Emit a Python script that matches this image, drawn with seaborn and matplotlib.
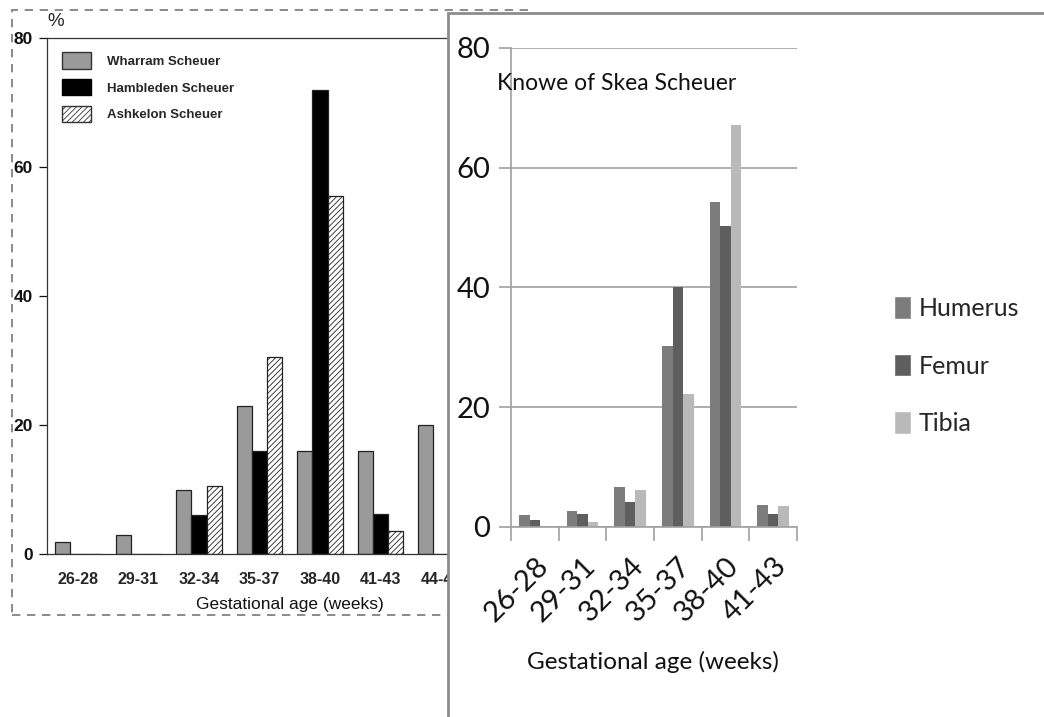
import matplotlib
matplotlib.use('Agg')
import matplotlib.pyplot as plt
import matplotlib.patches as mpatches
import pandas as pd
import seaborn as sns

# left panel data (percent)
ages_left = ['26-28', '29-31', '32-34', '35-37', '38-40', '41-43', '44-46']
wharram   = [1.8, 3.0, 10.0, 23.0, 16.0, 16.0, 20.0]
hambleden = [0.0, 0.0, 6.0, 16.0, 72.0, 6.2, 0.0]
ashkelon  = [0.0, 0.0, 10.5, 30.5, 55.5, 3.6, 0.0]
sites = ['Wharram Scheuer', 'Hambleden Scheuer', 'Ashkelon Scheuer']

# right panel data (percent)
ages_right = ['26-28', '29-31', '32-34', '35-37', '38-40', '41-43']
humerus = [1.9, 2.7, 6.6, 30.2, 54.3, 3.7]
femur   = [1.1, 2.1, 4.2, 40.0, 50.3, 2.1]
tibia   = [0.0, 0.8, 6.1, 22.1, 67.1, 3.5]
bones = ['Humerus', 'Femur', 'Tibia']

sns.set_style('white')
plt.rcParams['font.family'] = ['Liberation Sans', 'DejaVu Sans']
plt.rcParams['hatch.linewidth'] = 0.6

W, H = 1044, 717
def box(l, t, r, b):
  return [l / W, 1 - b / H, (r - l) / W, (b - t) / H]

fig = plt.figure(figsize=(W / 100, H / 100), dpi=100)
fig.patch.set_facecolor('white')

# ---- left panel ----
left_db = pd.DataFrame({'age': ages_left * 3,
                        'pct': wharram + hambleden + ashkelon,
                        'site': [s for s in sites for _ in ages_left]})

ax1 = fig.add_axes(box(47, 38, 470, 554))
ax1.set_zorder(0)
sns.barplot(data=left_db, x='age', y='pct', hue='site', hue_order=sites,
            palette=['#9a9a9a', '#000000', '#ffffff'], width=0.75,
            saturation=1, edgecolor='#222222', linewidth=0.9,
            legend=False, ax=ax1)
for bar in ax1.containers[2]:
  bar.set_hatch('//////')
  bar.set_facecolor('white')

ax1.set_ylim(0, 80)
ax1.set_xlim(-0.512, 6.48)
ax1.set_yticks([0, 20, 40, 60, 80])
ax1.tick_params(axis='y', length=6, width=0.9, pad=4, labelsize=12.5, colors='#111111', left=True)
ax1.tick_params(axis='x', length=0, pad=13, labelsize=11.5)
for lab in ax1.get_xticklabels() + ax1.get_yticklabels():
  lab.set_fontweight('semibold')
ax1.set_xlabel('')
ax1.set_ylabel('')
for s in ['left', 'top', 'bottom']:
  ax1.spines[s].set_color('#333333')
  ax1.spines[s].set_linewidth(0.9)
ax1.spines['right'].set_visible(False)

handles = [mpatches.Patch(facecolor='#9a9a9a', edgecolor='#333333', label=sites[0]),
           mpatches.Patch(facecolor='black', edgecolor='black', label=sites[1]),
           mpatches.Patch(facecolor='white', edgecolor='#333333', hatch='//////', label=sites[2])]
ax1.legend(handles=handles, loc='upper left', bbox_to_anchor=(0.008, 0.995),
           frameon=False, handlelength=2.2, handleheight=1.5, handletextpad=1.2,
           labelspacing=0.8, prop={'weight': 'bold', 'size': 9.5})

fig.text(47 / W, 1 - 21 / H, '%', fontsize=13.5, va='center', ha='left')
fig.text(290 / W, 1 - 604 / H, 'Gestational age (weeks)', fontsize=12.5,
         va='center', ha='center', color='#111111', fontweight='medium')

# dashed frame of left figure
fig.add_artist(mpatches.Rectangle((12 / W, 1 - 615 / H), 518 / W, 605 / H,
                                  transform=fig.transFigure, fill=False,
                                  edgecolor='#777777', linewidth=1.2,
                                  linestyle=(0, (5, 4)), zorder=0.5))

# white panel with grey frame on top
fig.add_artist(mpatches.Rectangle((448 / W, -0.05), 0.7, 1.05 - 13 / H,
                                  transform=fig.transFigure, facecolor='white',
                                  edgecolor='#8c8c8c', linewidth=2, zorder=1))

# ---- right panel ----
right_db = pd.DataFrame({'age': ages_right * 3,
                         'pct': humerus + femur + tibia,
                         'bone': [b for b in bones for _ in ages_right]})

rfont = ['Lato', 'DejaVu Sans']
ax2 = fig.add_axes(box(511, 48, 797, 526.7))
ax2.set_zorder(2)
sns.barplot(data=right_db, x='age', y='pct', hue='bone', hue_order=bones,
            palette=['#7c7c7c', '#5e5e5e', '#b9b9b9'], width=0.66,
            saturation=1, linewidth=0, legend=False, ax=ax2)
ax2.set_ylim(0, 80)
ax2.set_xlim(-0.5, 5.5)
ax2.set_yticks([0, 20, 40, 60, 80])
ax2.yaxis.grid(True, color='#a0a0a0', linewidth=1.2)
ax2.set_axisbelow(True)
ax2.tick_params(axis='y', length=9, width=1.2, color='#a0a0a0', pad=6, left=True)
ax2.set_xticks(range(len(ages_right)))
ax2.set_xticks([i - 0.5 for i in range(len(ages_right) + 1)], minor=True)
ax2.tick_params(axis='x', which='major', length=0, pad=19)
ax2.tick_params(axis='x', which='minor', length=10, width=1.2, color='#a0a0a0', bottom=True)
ax2.set_xticklabels(ages_right, rotation=45, ha='right', rotation_mode='anchor')
for lab in ax2.get_xticklabels() + ax2.get_yticklabels():
  lab.set_family(rfont)
  lab.set_fontsize(21)
  lab.set_color('#111111')
for s in ['top', 'right']:
  ax2.spines[s].set_visible(False)
ax2.spines['left'].set_color('#a0a0a0')
ax2.spines['bottom'].set_color('#a0a0a0')
ax2.spines['left'].set_linewidth(1.2)
ax2.spines['bottom'].set_linewidth(1.2)
ax2.set_xlabel('')
ax2.set_ylabel('')

fig.text(497 / W, 1 - 83 / H, 'Knowe of Skea Scheuer', fontsize=16.5,
         family=rfont, va='center', ha='left', color='#111111', zorder=3)
fig.text(653 / W, 1 - 662 / H, 'Gestational age (weeks)', fontsize=17.5,
         family=rfont, va='center', ha='center', color='#111111', zorder=3)

bone_handles = [mpatches.Patch(facecolor=c, label=b)
                for c, b in zip(['#7c7c7c', '#5e5e5e', '#b9b9b9'], bones)]
ax2.legend(handles=bone_handles, loc='center left', bbox_to_anchor=(1.26, 0.336),
           frameon=False, handlelength=0.7, handleheight=1.0, handletextpad=0.3,
           labelspacing=1.35, prop={'family': rfont, 'size': 18})

fig.savefig('out.png', dpi=100, facecolor='white')
